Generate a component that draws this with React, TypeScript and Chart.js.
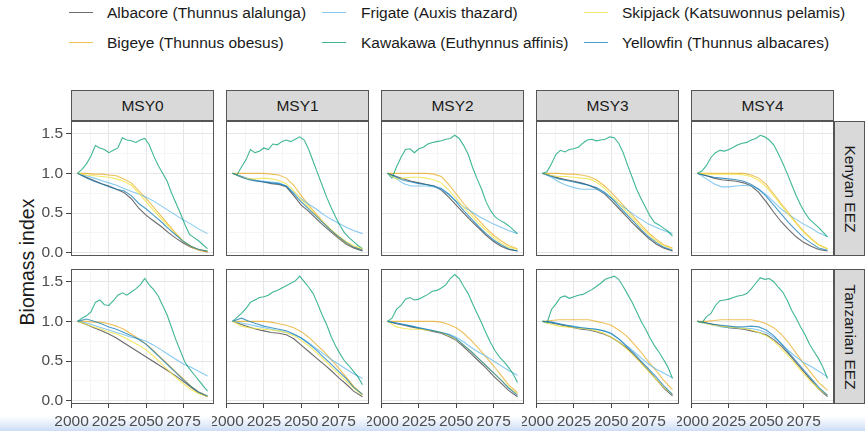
import React, { useEffect, useRef } from 'react';
import { Chart, registerables } from 'chart.js';
Chart.register(...registerables);

// ---------- axes / categories ----------
const YEARS = [2004, 2010, 2015, 2020, 2025, 2030, 2035, 2040, 2045, 2050, 2055, 2060, 2065, 2070, 2075, 2080, 2085, 2091];
const KYEARS = [2004, 2007, 2010, 2013, 2016, 2019, 2022, 2025, 2028, 2031, 2034, 2037, 2040, 2043, 2046, 2049, 2052, 2055, 2058, 2061, 2064, 2067, 2070, 2073, 2076, 2079, 2082, 2085, 2088, 2091];
const X_MAJOR = [2000, 2025, 2050, 2075];
const X_MINOR = [2012.5, 2037.5, 2062.5, 2087.5];
const Y_MAJOR = [0, 0.5, 1, 1.5];
const Y_MINOR = [0.25, 0.75, 1.25];
const SCENARIOS = ['MSY0', 'MSY1', 'MSY2', 'MSY3', 'MSY4'];
const REGIONS = ['Kenyan EEZ', 'Tanzanian EEZ'];
const SPECIES = [
  'Albacore (Thunnus alalunga)',
  'Bigeye (Thunnus obesus)',
  'Frigate (Auxis thazard)',
  'Kawakawa (Euthynnus affinis)',
  'Skipjack (Katsuwonnus pelamis)',
  'Yellowfin (Thunnus albacares)',
];
const COLORS = ['rgba(50,50,50,0.72)', 'rgba(230,159,0,0.65)', 'rgba(86,180,233,0.7)', 'rgba(0,158,115,0.75)', 'rgba(240,228,66,0.8)', 'rgba(0,114,178,0.7)'];

// ---------- Kenyan EEZ (rows: MSY0..MSY4) ----------
const ALB_KE = [
  [1.00, 0.95, 0.91, 0.87, 0.84, 0.80, 0.76, 0.68, 0.56, 0.47, 0.40, 0.33, 0.25, 0.18, 0.12, 0.07, 0.04, 0.01],
  [1.00, 0.96, 0.93, 0.91, 0.89, 0.87, 0.86, 0.83, 0.72, 0.60, 0.52, 0.43, 0.34, 0.26, 0.18, 0.11, 0.06, 0.02],
  [1.00, 0.96, 0.93, 0.90, 0.88, 0.86, 0.84, 0.79, 0.70, 0.60, 0.50, 0.40, 0.31, 0.22, 0.14, 0.08, 0.04, 0.02],
  [1.00, 0.97, 0.94, 0.92, 0.90, 0.88, 0.85, 0.81, 0.75, 0.66, 0.56, 0.46, 0.36, 0.27, 0.18, 0.11, 0.06, 0.02],
  [1.00, 0.97, 0.94, 0.92, 0.91, 0.90, 0.88, 0.84, 0.76, 0.64, 0.51, 0.39, 0.29, 0.20, 0.13, 0.08, 0.04, 0.02],
];
const BIG_KE = [
  [1.00, 1.00, 0.99, 0.99, 0.98, 0.97, 0.93, 0.88, 0.78, 0.68, 0.57, 0.46, 0.35, 0.24, 0.14, 0.07, 0.03, 0.01],
  [1.00, 1.00, 1.00, 1.00, 1.00, 0.99, 0.98, 0.94, 0.85, 0.72, 0.60, 0.49, 0.38, 0.28, 0.19, 0.12, 0.07, 0.04],
  [1.00, 1.00, 1.00, 1.00, 1.00, 1.00, 0.99, 0.96, 0.86, 0.74, 0.62, 0.51, 0.41, 0.31, 0.22, 0.15, 0.09, 0.05],
  [1.00, 1.00, 1.00, 0.99, 0.99, 0.98, 0.96, 0.92, 0.85, 0.76, 0.66, 0.56, 0.45, 0.35, 0.25, 0.17, 0.10, 0.06],
  [1.00, 1.00, 1.00, 1.00, 1.00, 1.00, 1.00, 0.98, 0.94, 0.86, 0.74, 0.62, 0.50, 0.38, 0.27, 0.18, 0.10, 0.05],
];
const FRI_KE = [
  [1.00, 0.97, 0.94, 0.91, 0.88, 0.85, 0.81, 0.77, 0.74, 0.70, 0.65, 0.59, 0.53, 0.47, 0.41, 0.36, 0.30, 0.24],
  [1.00, 0.96, 0.93, 0.91, 0.90, 0.89, 0.88, 0.84, 0.76, 0.68, 0.61, 0.55, 0.48, 0.42, 0.37, 0.32, 0.28, 0.24],
  [1.00, 0.93, 0.87, 0.84, 0.84, 0.84, 0.83, 0.80, 0.73, 0.65, 0.58, 0.52, 0.46, 0.41, 0.36, 0.32, 0.28, 0.24],
  [1.00, 0.95, 0.89, 0.85, 0.82, 0.80, 0.80, 0.80, 0.76, 0.69, 0.62, 0.55, 0.48, 0.42, 0.36, 0.32, 0.28, 0.24],
  [1.00, 0.93, 0.87, 0.83, 0.83, 0.84, 0.85, 0.84, 0.80, 0.73, 0.64, 0.55, 0.48, 0.42, 0.36, 0.31, 0.25, 0.20],
];
const KAW_KE = [
  [1.00, 1.05, 1.12, 1.22, 1.35, 1.32, 1.30, 1.26, 1.29, 1.32, 1.45, 1.42, 1.41, 1.39, 1.42, 1.44, 1.36, 1.22, 1.10, 1.00, 0.90, 0.75, 0.62, 0.49, 0.35, 0.23, 0.19, 0.15, 0.10, 0.05],
  [1.00, 0.98, 1.08, 1.17, 1.30, 1.26, 1.28, 1.32, 1.30, 1.37, 1.36, 1.40, 1.42, 1.40, 1.43, 1.46, 1.42, 1.30, 1.15, 1.00, 0.85, 0.70, 0.57, 0.45, 0.34, 0.25, 0.19, 0.14, 0.09, 0.05],
  [1.00, 0.94, 1.08, 1.20, 1.30, 1.31, 1.26, 1.31, 1.33, 1.37, 1.39, 1.40, 1.41, 1.43, 1.44, 1.48, 1.44, 1.35, 1.24, 1.07, 0.93, 0.80, 0.64, 0.53, 0.45, 0.41, 0.38, 0.34, 0.29, 0.24],
  [1.00, 1.02, 1.12, 1.24, 1.29, 1.27, 1.30, 1.31, 1.33, 1.38, 1.42, 1.43, 1.41, 1.42, 1.43, 1.46, 1.45, 1.38, 1.26, 1.10, 0.95, 0.80, 0.68, 0.57, 0.46, 0.38, 0.35, 0.31, 0.27, 0.21],
  [1.00, 1.03, 1.10, 1.20, 1.26, 1.29, 1.28, 1.30, 1.33, 1.36, 1.38, 1.39, 1.42, 1.44, 1.48, 1.46, 1.42, 1.36, 1.25, 1.13, 1.00, 0.86, 0.72, 0.60, 0.50, 0.42, 0.37, 0.32, 0.26, 0.20],
];
const SKJ_KE = [
  [1.00, 0.98, 0.97, 0.96, 0.95, 0.93, 0.90, 0.85, 0.75, 0.64, 0.53, 0.43, 0.33, 0.23, 0.14, 0.08, 0.04, 0.02],
  [1.00, 0.95, 0.93, 0.93, 0.94, 0.93, 0.91, 0.87, 0.78, 0.67, 0.57, 0.47, 0.38, 0.29, 0.21, 0.14, 0.09, 0.05],
  [1.00, 0.93, 0.94, 0.95, 0.95, 0.94, 0.92, 0.88, 0.79, 0.68, 0.57, 0.47, 0.37, 0.28, 0.19, 0.12, 0.07, 0.04],
  [1.00, 0.97, 0.96, 0.96, 0.95, 0.94, 0.93, 0.89, 0.82, 0.72, 0.62, 0.52, 0.42, 0.32, 0.23, 0.15, 0.09, 0.05],
  [1.00, 0.99, 0.99, 0.99, 0.99, 0.99, 0.98, 0.96, 0.91, 0.83, 0.72, 0.60, 0.48, 0.37, 0.26, 0.17, 0.10, 0.05],
];
const YFT_KE = [
  [1.00, 0.94, 0.90, 0.87, 0.83, 0.80, 0.78, 0.72, 0.62, 0.55, 0.47, 0.39, 0.30, 0.22, 0.14, 0.08, 0.04, 0.02],
  [1.00, 0.95, 0.92, 0.90, 0.89, 0.88, 0.87, 0.84, 0.74, 0.64, 0.55, 0.46, 0.37, 0.28, 0.20, 0.13, 0.07, 0.03],
  [1.00, 0.95, 0.91, 0.89, 0.87, 0.86, 0.84, 0.81, 0.74, 0.64, 0.53, 0.43, 0.33, 0.24, 0.16, 0.10, 0.05, 0.02],
  [1.00, 0.96, 0.93, 0.91, 0.89, 0.87, 0.85, 0.82, 0.77, 0.69, 0.59, 0.49, 0.39, 0.29, 0.20, 0.13, 0.07, 0.03],
  [1.00, 0.97, 0.95, 0.94, 0.93, 0.92, 0.90, 0.86, 0.80, 0.71, 0.60, 0.49, 0.38, 0.28, 0.19, 0.12, 0.06, 0.03],
];

// ---------- Tanzanian EEZ (rows: MSY0..MSY4) ----------
const ALB_TZ = [
  [1.00, 0.96, 0.92, 0.88, 0.84, 0.79, 0.73, 0.67, 0.61, 0.55, 0.49, 0.43, 0.37, 0.31, 0.24, 0.17, 0.10, 0.05],
  [1.00, 0.96, 0.93, 0.90, 0.88, 0.86, 0.85, 0.83, 0.78, 0.70, 0.62, 0.54, 0.46, 0.38, 0.29, 0.21, 0.12, 0.05],
  [1.00, 0.97, 0.95, 0.93, 0.91, 0.89, 0.87, 0.85, 0.81, 0.76, 0.68, 0.59, 0.50, 0.41, 0.31, 0.22, 0.13, 0.05],
  [1.00, 0.98, 0.96, 0.94, 0.92, 0.90, 0.89, 0.87, 0.84, 0.80, 0.74, 0.67, 0.58, 0.48, 0.38, 0.27, 0.16, 0.06],
  [1.00, 0.98, 0.96, 0.94, 0.92, 0.91, 0.90, 0.88, 0.86, 0.83, 0.77, 0.69, 0.59, 0.48, 0.37, 0.26, 0.15, 0.05],
];
const BIG_TZ = [
  [1.00, 1.00, 0.99, 0.99, 0.97, 0.94, 0.90, 0.84, 0.78, 0.71, 0.63, 0.54, 0.45, 0.36, 0.27, 0.18, 0.11, 0.06],
  [1.00, 1.00, 1.00, 1.00, 1.00, 0.99, 0.97, 0.95, 0.92, 0.87, 0.80, 0.71, 0.62, 0.52, 0.41, 0.30, 0.18, 0.08],
  [1.00, 1.00, 1.00, 1.00, 1.00, 1.00, 1.00, 0.99, 0.96, 0.92, 0.85, 0.76, 0.66, 0.55, 0.44, 0.32, 0.20, 0.10],
  [1.00, 1.01, 1.02, 1.02, 1.02, 1.02, 1.02, 1.00, 0.98, 0.95, 0.89, 0.82, 0.72, 0.61, 0.49, 0.38, 0.26, 0.14],
  [1.00, 1.00, 1.01, 1.02, 1.02, 1.02, 1.02, 1.02, 1.00, 0.97, 0.92, 0.84, 0.73, 0.60, 0.47, 0.35, 0.23, 0.13],
];
const FRI_TZ = [
  [1.00, 0.98, 0.95, 0.92, 0.89, 0.86, 0.83, 0.80, 0.78, 0.75, 0.70, 0.64, 0.58, 0.52, 0.46, 0.42, 0.37, 0.31],
  [1.00, 0.98, 0.96, 0.94, 0.92, 0.90, 0.88, 0.86, 0.83, 0.79, 0.73, 0.66, 0.59, 0.52, 0.46, 0.40, 0.34, 0.28],
  [1.00, 0.98, 0.96, 0.94, 0.92, 0.90, 0.88, 0.86, 0.84, 0.80, 0.74, 0.67, 0.61, 0.56, 0.50, 0.44, 0.38, 0.32],
  [1.00, 0.99, 0.97, 0.95, 0.94, 0.92, 0.91, 0.90, 0.88, 0.84, 0.78, 0.70, 0.62, 0.54, 0.46, 0.40, 0.35, 0.29],
  [1.00, 0.97, 0.95, 0.93, 0.92, 0.92, 0.91, 0.91, 0.89, 0.86, 0.80, 0.72, 0.63, 0.55, 0.48, 0.43, 0.37, 0.30],
];
const KAW_TZ = [
  [1.00, 1.04, 1.07, 1.12, 1.24, 1.27, 1.21, 1.20, 1.26, 1.33, 1.36, 1.33, 1.37, 1.41, 1.46, 1.54, 1.46, 1.40, 1.32, 1.20, 1.08, 0.92, 0.76, 0.62, 0.48, 0.40, 0.33, 0.26, 0.19, 0.12],
  [1.00, 1.05, 1.10, 1.16, 1.24, 1.27, 1.30, 1.31, 1.33, 1.37, 1.39, 1.42, 1.45, 1.48, 1.51, 1.57, 1.50, 1.43, 1.35, 1.22, 1.08, 0.96, 0.81, 0.69, 0.59, 0.50, 0.44, 0.37, 0.30, 0.20],
  [1.00, 1.04, 1.15, 1.20, 1.28, 1.30, 1.27, 1.28, 1.31, 1.34, 1.38, 1.39, 1.42, 1.46, 1.54, 1.59, 1.54, 1.44, 1.35, 1.22, 1.10, 0.98, 0.85, 0.73, 0.63, 0.55, 0.49, 0.42, 0.34, 0.23],
  [1.00, 0.98, 1.15, 1.22, 1.30, 1.32, 1.29, 1.31, 1.33, 1.34, 1.37, 1.40, 1.44, 1.48, 1.53, 1.55, 1.57, 1.53, 1.44, 1.34, 1.24, 1.12, 1.00, 0.90, 0.79, 0.69, 0.61, 0.52, 0.42, 0.28],
  [1.00, 0.98, 1.06, 1.10, 1.20, 1.26, 1.27, 1.28, 1.30, 1.32, 1.33, 1.35, 1.41, 1.48, 1.55, 1.53, 1.54, 1.50, 1.43, 1.37, 1.27, 1.14, 1.04, 0.93, 0.83, 0.71, 0.62, 0.53, 0.42, 0.28],
];
const SKJ_TZ = [
  [1.00, 0.96, 0.93, 0.90, 0.87, 0.84, 0.80, 0.75, 0.70, 0.64, 0.56, 0.47, 0.38, 0.29, 0.21, 0.14, 0.09, 0.05],
  [1.00, 0.94, 0.92, 0.91, 0.90, 0.89, 0.88, 0.86, 0.82, 0.76, 0.69, 0.61, 0.52, 0.43, 0.34, 0.25, 0.16, 0.07],
  [1.00, 0.93, 0.91, 0.90, 0.90, 0.89, 0.88, 0.86, 0.82, 0.77, 0.70, 0.62, 0.53, 0.44, 0.35, 0.26, 0.17, 0.08],
  [1.00, 0.96, 0.94, 0.93, 0.92, 0.91, 0.90, 0.88, 0.85, 0.80, 0.74, 0.66, 0.57, 0.47, 0.37, 0.27, 0.17, 0.08],
  [1.00, 0.97, 0.95, 0.94, 0.93, 0.92, 0.91, 0.89, 0.86, 0.82, 0.75, 0.66, 0.56, 0.45, 0.34, 0.24, 0.15, 0.07],
];
const YFT_TZ = [
  [1.00, 1.03, 1.00, 0.97, 0.93, 0.90, 0.86, 0.82, 0.77, 0.71, 0.62, 0.53, 0.44, 0.35, 0.26, 0.18, 0.11, 0.06],
  [1.00, 1.04, 1.00, 0.97, 0.94, 0.92, 0.90, 0.88, 0.84, 0.79, 0.72, 0.64, 0.55, 0.46, 0.37, 0.28, 0.17, 0.08],
  [1.00, 0.98, 0.96, 0.94, 0.92, 0.90, 0.88, 0.86, 0.83, 0.78, 0.70, 0.62, 0.53, 0.44, 0.35, 0.26, 0.16, 0.07],
  [1.00, 0.99, 0.97, 0.95, 0.93, 0.92, 0.91, 0.90, 0.88, 0.85, 0.78, 0.69, 0.60, 0.50, 0.40, 0.30, 0.19, 0.08],
  [1.00, 0.98, 0.96, 0.95, 0.94, 0.93, 0.93, 0.94, 0.93, 0.89, 0.82, 0.72, 0.61, 0.50, 0.39, 0.28, 0.17, 0.07],
];

const SERIES = [
  [ALB_KE, BIG_KE, FRI_KE, KAW_KE, SKJ_KE, YFT_KE],
  [ALB_TZ, BIG_TZ, FRI_TZ, KAW_TZ, SKJ_TZ, YFT_TZ],
];

// ---------- layout ----------
const FONT = '"Liberation Sans", Arial, Helvetica, sans-serif';
const FS = 15.5;
const PANEL_LEFT = 71;
const PANEL_W = 143;
const PANEL_STEP = 155;
const PANEL_TOPS = [121, 269];
const PANEL_H = 135;
const STRIP_TOP = 90;
const STRIP_H = 31;
const Y_AXIS_W = 71;
const X_AXIS_H = 30;
const M = 14;
const X_MIN = 1999.65;
const X_MAX = 2095.35;
const Y_MIN = -0.042;
const Y_MAX = 1.66;
const BORDER = '#555555';

const near = (a: number, arr: number[]) => arr.some((b) => Math.abs(a - b) < 1e-6);

function Panel({ r, c }: { r: number; c: number }) {
  const ref = useRef<HTMLCanvasElement | null>(null);
  const showY = c === 0;
  const showX = r === 1;
  const axisW = showY ? Y_AXIS_W : 0;
  const axisH = showX ? X_AXIS_H : 0;
  const pl = PANEL_LEFT + PANEL_STEP * c;
  const pt = PANEL_TOPS[r];
  const cw = M + axisW + PANEL_W + M;
  const ch = M + PANEL_H + axisH + M;

  useEffect(() => {
    const datasets = SPECIES.map((name, s) => {
      const xs = s === 3 ? KYEARS : YEARS;
      const ys = SERIES[r][s][c];
      return {
        label: name,
        data: xs.map((x, i) => ({ x, y: ys[i] })),
        borderColor: COLORS[s],
        backgroundColor: COLORS[s],
        borderWidth: 1.1,
        pointRadius: 0,
        tension: 0,
        fill: false,
        order: 5 - s,
      };
    });
    const chart = new Chart(ref.current as HTMLCanvasElement, {
      type: 'line',
      data: { datasets },
      options: {
        animation: false,
        responsive: false,
        events: [],
        layout: { padding: { left: M, right: M, top: M, bottom: M } },
        plugins: { legend: { display: false }, tooltip: { enabled: false } },
        scales: {
          x: {
            type: 'linear',
            min: X_MIN,
            max: X_MAX,
            afterBuildTicks: (s: any) => {
              s.ticks = [...X_MAJOR, ...X_MINOR].sort((a, b) => a - b).map((v) => ({ value: v }));
            },
            afterFit: (s: any) => {
              s.height = axisH;
              s.paddingLeft = 0;
              s.paddingRight = 0;
            },
            border: { display: false },
            grid: {
              color: (ctx: any) => (ctx.tick && near(ctx.tick.value, X_MAJOR) ? '#E6E6E6' : '#F1F1F1'),
              lineWidth: (ctx: any) => (ctx.tick && near(ctx.tick.value, X_MAJOR) ? 1 : 0.7),
              drawTicks: showX,
              tickLength: 4,
              tickColor: (ctx: any) => (ctx.tick && near(ctx.tick.value, X_MAJOR) ? '#444' : 'rgba(0,0,0,0)'),
            },
            ticks: {
              display: showX,
              autoSkip: false,
              maxRotation: 0,
              minRotation: 0,
              padding: 4,
              color: '#4D4D4D',
              font: { family: FONT, size: FS },
              callback: (v: any) => (near(Number(v), X_MAJOR) ? String(v) : ''),
            },
          },
          y: {
            type: 'linear',
            min: Y_MIN,
            max: Y_MAX,
            afterBuildTicks: (s: any) => {
              s.ticks = [...Y_MAJOR, ...Y_MINOR].sort((a, b) => a - b).map((v) => ({ value: v }));
            },
            afterFit: (s: any) => {
              s.width = axisW;
              s.paddingTop = 0;
              s.paddingBottom = 0;
            },
            border: { display: false },
            grid: {
              color: (ctx: any) => (ctx.tick && near(ctx.tick.value, Y_MAJOR) ? '#E6E6E6' : '#F1F1F1'),
              lineWidth: (ctx: any) => (ctx.tick && near(ctx.tick.value, Y_MAJOR) ? 1 : 0.7),
              drawTicks: showY,
              tickLength: 5,
              tickColor: (ctx: any) => (ctx.tick && near(ctx.tick.value, Y_MAJOR) ? '#444' : 'rgba(0,0,0,0)'),
            },
            ticks: {
              display: showY,
              autoSkip: false,
              padding: 3,
              color: '#4D4D4D',
              font: { family: FONT, size: FS },
              callback: (v: any) => (near(Number(v), Y_MAJOR) ? Number(v).toFixed(1) : ''),
            },
          },
        },
      } as any,
    });
    return () => chart.destroy();
  }, []);

  return (
    <>
      <canvas
        ref={ref}
        width={cw}
        height={ch}
        style={{ position: 'absolute', left: pl - axisW - M, top: pt - M, width: cw, height: ch }}
      />
      <div
        style={{
          position: 'absolute',
          left: pl,
          top: pt,
          width: PANEL_W,
          height: PANEL_H,
          border: `1px solid ${BORDER}`,
          boxSizing: 'border-box',
          pointerEvents: 'none',
        }}
      />
    </>
  );
}

const LEGEND_COLS = [
  { keyX: 69, textX: 107 },
  { keyX: 322, textX: 361 },
  { keyX: 584, textX: 622 },
];
const LEGEND_ROWS = [13, 43];

export default function App() {
  const panels: any[] = [];
  for (let r = 0; r < 2; r++) for (let c = 0; c < 5; c++) panels.push(<Panel key={`${r}-${c}`} r={r} c={c} />);

  return (
    <div
      style={{
        position: 'fixed',
        left: 0,
        top: 0,
        width: 865,
        height: 431,
        overflow: 'hidden',
        background: '#ffffff',
        fontFamily: FONT,
      }}
    >
      {/* faint bluish band along the bottom edge of the reference picture */}
      <div
        style={{
          position: 'absolute',
          left: 0,
          top: 416,
          width: 865,
          height: 15,
          background: 'linear-gradient(to bottom, rgba(225,235,250,0), rgba(200,218,245,0.9))',
        }}
      />

      {/* legend */}
      {SPECIES.map((name, s) => {
        const col = LEGEND_COLS[Math.floor(s / 2)];
        const cy = LEGEND_ROWS[s % 2];
        return (
          <React.Fragment key={name}>
            <div
              style={{
                position: 'absolute',
                left: col.keyX,
                top: cy - 1,
                width: 24,
                height: 0,
                borderTop: `1.5px solid ${COLORS[s]}`,
              }}
            />
            <div
              style={{
                position: 'absolute',
                left: col.textX,
                top: cy - 10,
                height: 20,
                lineHeight: '20px',
                fontSize: FS,
                color: '#1A1A1A',
                whiteSpace: 'nowrap',
              }}
            >
              {name}
            </div>
          </React.Fragment>
        );
      })}

      {/* top strips */}
      {SCENARIOS.map((sc, c) => (
        <div
          key={sc}
          style={{
            position: 'absolute',
            left: PANEL_LEFT + PANEL_STEP * c,
            top: STRIP_TOP,
            width: PANEL_W,
            height: STRIP_H,
            background: '#D9D9D9',
            border: `1px solid ${BORDER}`,
            boxSizing: 'border-box',
            display: 'flex',
            alignItems: 'center',
            justifyContent: 'center',
            fontSize: FS,
            color: '#1A1A1A',
          }}
        >
          {sc}
        </div>
      ))}

      {/* right strips */}
      {REGIONS.map((rg, r) => (
        <div
          key={rg}
          style={{
            position: 'absolute',
            left: PANEL_LEFT + PANEL_STEP * 4 + PANEL_W,
            top: PANEL_TOPS[r],
            width: 31,
            height: PANEL_H,
            background: '#D9D9D9',
            border: `1px solid ${BORDER}`,
            boxSizing: 'border-box',
            display: 'flex',
            alignItems: 'center',
            justifyContent: 'center',
          }}
        >
          <div style={{ transform: 'rotate(90deg)', whiteSpace: 'nowrap', fontSize: FS, color: '#1A1A1A' }}>{rg}</div>
        </div>
      ))}

      {/* y-axis title */}
      <div
        style={{
          position: 'absolute',
          left: 27,
          top: 262,
          transform: 'translate(-50%, -50%) rotate(-90deg)',
          whiteSpace: 'nowrap',
          fontSize: 19.5,
          color: '#1A1A1A',
        }}
      >
        Biomass index
      </div>

      {panels}
    </div>
  );
}
